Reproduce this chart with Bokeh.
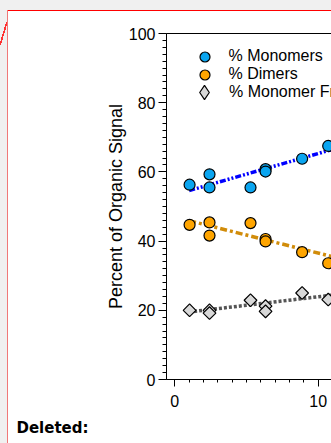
import math
from bokeh.plotting import figure
from bokeh.models import (Range1d, FixedTicker, LinearAxis, Legend, LegendItem, Title)
from bokeh.embed import file_html
from bokeh.resources import INLINE

# ---- data ----
x_vals = [1.03, 2.42, 2.42, 5.28, 6.33, 6.33, 8.88, 10.7]
monomers = [56.3, 59.3, 55.5, 55.5, 60.8, 60.1, 63.8, 67.5]
dimers = [44.7, 45.4, 41.6, 45.2, 40.6, 39.9, 36.8, 33.6]
fragments = [20.0, 20.0, 19.2, 22.9, 21.2, 19.7, 25.0, 23.1]

fit_x = [1.0, 11.0]
fit_monomers = [54.6, 66.5]
fit_dimers = [45.9, 35.5]
fit_fragments = [19.5, 24.4]

x_major = [0, 10]
x_minor = list(range(0, 11))
y_major = [0, 20, 40, 60, 80, 100]
y_minor = list(range(0, 101, 2))

legend_labels = ["% Monomers", "% Dimers", "% Monomer Fragments"]
y_title = "Percent of Organic Signal"
note_text = "Deleted:"

FONT = "Liberation Sans"

p = figure(width=331, height=443, output_backend="svg", toolbar_location=None,
           x_range=Range1d(-0.58, 10.93), y_range=Range1d(0, 100),
           min_border_left=166, min_border_right=0, min_border_top=33,
           min_border_bottom=63, background_fill_color="white",
           border_fill_color="white", border_fill_alpha=0, outline_line_color=None)
p.grid.visible = False
# page look: grey strip at top/left, red comment-box rules and connector stroke
p.styles = {
    "background": (
        "linear-gradient(to bottom right, transparent 44%, #ff3030 44%, #ff3030 56%, "
        "transparent 56%) 0 22px / 7px 23px no-repeat, "
        "linear-gradient(#f07878, #f07878) 7px 10px / 1px 100% no-repeat, "
        "linear-gradient(#ff0000, #ff0000) 7px 10px / 100% 1px no-repeat, "
        "linear-gradient(#f0f0f0, #f0f0f0) 0 0 / 7px 100% no-repeat, "
        "linear-gradient(#f0f0f0, #f0f0f0) 0 0 / 100% 10px no-repeat, "
        "white"
    ),
}

# axes
xa = p.xaxis[0]
xa.ticker = FixedTicker(ticks=x_major, minor_ticks=x_minor)
ya = p.yaxis[0]
ya.ticker = FixedTicker(ticks=y_major, minor_ticks=y_minor)
for ax in (xa, ya):
    ax.axis_line_color = "black"
    ax.major_tick_line_color = "black"
    ax.minor_tick_line_color = "black"
    ax.major_tick_in = 0
    ax.minor_tick_in = 0
    ax.major_label_text_font = FONT
    ax.major_label_text_font_size = "16px"
    ax.major_label_text_color = "black"
xa.major_tick_out = 7
xa.minor_tick_out = 3
xa.major_label_standoff = 8
ya.major_tick_out = 8
ya.minor_tick_out = 4
ya.major_label_standoff = 3
ya.axis_label = y_title
ya.axis_label_text_font = FONT
ya.axis_label_text_font_size = "18px"
ya.axis_label_text_font_style = "normal"
ya.axis_label_text_color = "black"
ya.axis_label_standoff = 0

top = LinearAxis(ticker=FixedTicker(ticks=[]), axis_line_color="black",
                 major_tick_out=0, major_tick_in=0, minor_tick_out=0, minor_tick_in=0,
                 major_label_text_font_size="0px")
p.add_layout(top, "above")

# fit lines
p.line(fit_x, fit_monomers, line_color="#0000ff", line_width=3.5, line_dash="6 2 2 2 2 2")
p.line(fit_x, fit_dimers, line_color="#d18c0a", line_width=3.5, line_dash="7 3 3 3")
p.line(fit_x, fit_fragments, line_color="#555555", line_width=3.5, line_dash="3 2")

# markers
r_mono = p.scatter(x_vals, monomers, marker="circle", size=11, fill_color="#0aa5f0",
                   line_color="black", line_width=1.2)
r_dim = p.scatter(x_vals, dimers, marker="circle", size=11, fill_color="#ffa500",
                  line_color="black", line_width=1.2)
r_frag = p.scatter(x_vals, fragments, marker="square", angle=math.pi / 4, size=9,
                   fill_color="#d8d8d8", line_color="black", line_width=1.2)
# legend-only glyph (not plotted) so the legend key is a diamond
nan = float("nan")
r_frag_key = p.scatter(x=[nan], y=[nan], marker="diamond", fill_color="#d8d8d8",
                       line_color="black", line_width=1.2)

# one legend per entry so the rows can sit 18 px apart with full-size keys
legend_specs = [
    (legend_labels[0], r_mono, 25, (25.5, 310.5), 12),
    (legend_labels[1], r_dim, 25, (25.5, 292.5), 12),
    (legend_labels[2], r_frag_key, 36, (20, 269), 7),
]
for lab, rend, g, loc, so in legend_specs:
    lg = Legend(items=[LegendItem(label=lab, renderers=[rend])], location=loc,
                glyph_width=g, glyph_height=g, label_height=g, spacing=0,
                label_standoff=so, padding=0, margin=0,
                border_line_color=None, background_fill_alpha=0,
                label_text_font=FONT, label_text_font_size="16px",
                label_text_color="black")
    p.add_layout(lg)

note = Title(text=note_text, align="left", offset=-150, text_font="DejaVu Sans",
             text_font_style="bold", text_font_size="15px", text_color="black")
try:
    note.standoff = 14
except AttributeError:
    pass
p.add_layout(note, "below")

open("out.html", "w").write(file_html(p, INLINE))
